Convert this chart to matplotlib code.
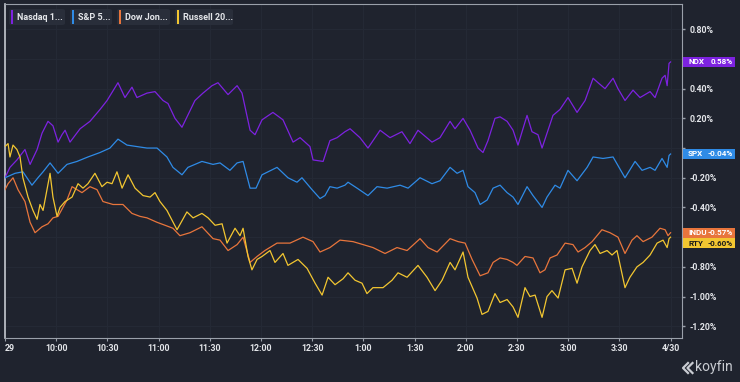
import matplotlib.pyplot as plt
import matplotlib.patches as patches
import matplotlib.transforms as transforms
from matplotlib.lines import Line2D

# minutes after 9:30 and % change
ndx_t = [0, 2.9, 7.0, 11.7, 14.7, 18.8, 21.7, 25.2, 28.1, 31.1, 33.4, 35.2, 38.1, 44.0, 49.8, 55.7,
         59.8, 66.2, 70.3, 74.4, 77.3, 83.2, 87.9, 92.6, 95.5, 99.6, 103.7, 111.3, 116.0, 121.3,
         124.8, 130.7, 136.0, 138.9, 143.6, 146.5, 150.6, 157.0, 162.9, 168.8, 172.9, 178.7, 180.5,
         186.4, 190.4, 194.6, 199.2, 202.2, 208.0, 212.7, 219.8, 225.6, 232.6, 237.3, 242.0, 250.2,
         254.9, 260.8, 263.7, 268.4, 272.5, 277.2, 280.1, 283.0, 287.1, 290.1, 294.2, 297.7, 300.6,
         305.9, 308.8, 312.3, 314.7, 317.6, 321.1, 325.2, 329.9, 335.2, 339.9, 344.6, 347.5, 351.6,
         356.3, 359.2, 363.3, 368.0, 372.1, 378.0, 380.9, 385.0, 386.8, 388.0, 389.1, 390]
ndx_v = [-0.20, -0.13, -0.08, -0.01, -0.11, -0.01, 0.10, 0.18, 0.15, 0.04, 0.09, 0.12, 0.04, 0.13, 0.18, 0.26,
         0.32, 0.44, 0.34, 0.41, 0.34, 0.37, 0.38, 0.32, 0.30, 0.20, 0.14, 0.32, 0.37, 0.42,
         0.44, 0.36, 0.42, 0.37, 0.12, 0.09, 0.19, 0.24, 0.19, 0.04, 0.07, 0.01, -0.08,
         -0.09, 0.05, 0.07, 0.11, 0.13, 0.07, 0.00, 0.12, 0.07, 0.11, 0.03, 0.12, 0.04,
         0.07, 0.18, 0.13, 0.20, 0.12, 0.00, -0.03, 0.05, 0.20, 0.21, 0.18, 0.12, 0.02,
         0.22, 0.11, 0.09, 0.00, 0.10, 0.22, 0.26, 0.34, 0.24, 0.32, 0.47, 0.44, 0.40,
         0.47, 0.40, 0.32, 0.39, 0.34, 0.38, 0.34, 0.47, 0.49, 0.42, 0.57, 0.58]

spx_t = [0, 5.9, 10.5, 15.8, 19.3, 22.3, 26.4, 31.1, 36.3, 42.2, 48.6, 55.7, 61.5, 66.2, 71.5, 77.3,
         83.2, 89.1, 94.9, 98.4, 103.7, 107.2, 115.4, 121.9, 126.0, 131.8, 136.0, 139.5, 143.6, 147.1,
         150.6, 159.4, 165.8, 171.1, 174.0, 179.9, 184.6, 187.5, 190.4, 194.6, 199.2, 201.0, 206.3,
         212.7, 218.0, 223.9, 231.5, 236.2, 243.2, 250.2, 254.9, 260.8, 264.9, 268.4, 271.3, 275.4,
         278.4, 282.5, 286.0, 290.1, 294.2, 297.7, 300.6, 305.9, 309.4, 314.7, 317.6, 322.3, 325.2,
         329.9, 335.2, 341.1, 344.6, 350.4, 356.3, 363.3, 369.2, 373.3, 378.0, 380.9, 385.0, 388.0,
         389.1, 390]
spx_v = [-0.20, -0.17, -0.16, -0.25, -0.20, -0.16, -0.10, -0.17, -0.11, -0.09, -0.06, -0.03, 0.00, 0.06, 0.02, 0.01,
         0.00, 0.00, -0.06, -0.13, -0.18, -0.13, -0.09, -0.11, -0.10, -0.15, -0.10, -0.09, -0.27, -0.27,
         -0.18, -0.13, -0.20, -0.23, -0.20, -0.28, -0.34, -0.32, -0.26, -0.27, -0.25, -0.23, -0.27,
         -0.32, -0.26, -0.27, -0.25, -0.27, -0.20, -0.24, -0.22, -0.13, -0.17, -0.15, -0.26, -0.30,
         -0.38, -0.35, -0.27, -0.25, -0.30, -0.33, -0.38, -0.26, -0.32, -0.40, -0.33, -0.25, -0.27,
         -0.15, -0.22, -0.13, -0.06, -0.07, -0.06, -0.20, -0.09, -0.15, -0.13, -0.15, -0.07, -0.13,
         -0.05, -0.04]

indu_t = [0, 1.8, 4.7, 7.6, 11.7, 14.7, 17.6, 21.7, 25.2, 28.1, 31.1, 36.3, 39.3, 45.1, 49.8, 53.9,
          57.4, 63.3, 69.1, 74.4, 79.1, 83.2, 89.1, 93.8, 98.4, 102.5, 108.4, 115.4, 121.9, 126.0,
          130.7, 136.0, 139.5, 143.6, 147.7, 152.3, 159.4, 167.0, 174.6, 180.5, 184.6, 190.4, 196.3,
          203.9, 209.8, 215.6, 222.7, 229.7, 235.6, 243.2, 247.9, 253.2, 260.8, 265.5, 269.6, 273.7,
          278.4, 283.0, 286.0, 290.1, 294.2, 297.7, 300.0, 304.7, 309.4, 313.5, 316.4, 319.4, 323.5,
          328.2, 332.8, 335.8, 339.9, 344.0, 349.8, 354.5, 359.2, 363.3, 367.4, 370.3, 373.9, 379.1,
          383.8, 386.8, 388.5, 390]
indu_v = [-0.28, -0.24, -0.20, -0.28, -0.36, -0.50, -0.57, -0.53, -0.51, -0.47, -0.46, -0.35, -0.26, -0.30, -0.26, -0.28,
          -0.36, -0.38, -0.38, -0.44, -0.46, -0.47, -0.50, -0.52, -0.54, -0.59, -0.57, -0.53, -0.61, -0.62,
          -0.69, -0.65, -0.60, -0.77, -0.73, -0.69, -0.64, -0.64, -0.60, -0.63, -0.70, -0.67, -0.62,
          -0.63, -0.65, -0.67, -0.71, -0.67, -0.69, -0.61, -0.67, -0.70, -0.61, -0.63, -0.64, -0.75,
          -0.86, -0.84, -0.77, -0.74, -0.75, -0.77, -0.79, -0.73, -0.74, -0.84, -0.82, -0.74, -0.72,
          -0.64, -0.65, -0.70, -0.67, -0.63, -0.55, -0.57, -0.60, -0.71, -0.62, -0.59, -0.63, -0.60,
          -0.54, -0.55, -0.59, -0.57]

rty_t = [0, 1.8, 2.9, 4.7, 7.0, 8.8, 10.5, 13.5, 16.4, 18.8, 20.5, 22.3, 24.6, 26.4, 28.1, 30.5,
         32.2, 35.2, 39.3, 42.8, 45.7, 48.6, 52.7, 56.8, 59.8, 62.7, 65.6, 68.6, 72.1, 76.2, 80.9,
         85.0, 87.9, 90.8, 94.9, 96.7, 100.8, 106.6, 110.2, 115.4, 119.0, 123.1, 127.2, 130.1, 134.8,
         137.7, 139.5, 142.4, 144.7, 147.7, 150.6, 155.3, 158.2, 162.9, 165.8, 171.7, 177.0, 181.7,
         185.8, 189.3, 193.4, 198.1, 201.0, 205.1, 209.2, 212.1, 215.6, 221.5, 226.8, 230.3, 235.6,
         242.0, 247.3, 252.0, 256.1, 260.8, 263.7, 268.4, 271.3, 276.6, 279.5, 283.0, 287.1, 290.1,
         294.2, 297.7, 300.6, 304.7, 307.6, 310.6, 314.7, 317.6, 320.5, 324.1, 328.2, 332.3, 335.2,
         338.1, 342.8, 345.7, 348.7, 352.8, 355.7, 358.6, 363.3, 366.2, 370.3, 373.9, 378.0, 382.1,
         385.6, 388.0, 389.1, 390]
rty_v = [0.01, 0.03, -0.06, 0.02, -0.01, -0.06, -0.20, -0.33, -0.42, -0.48, -0.38, -0.42, -0.28, -0.17, -0.33, -0.46,
         -0.40, -0.36, -0.33, -0.24, -0.27, -0.24, -0.17, -0.26, -0.23, -0.24, -0.16, -0.27, -0.18, -0.27, -0.32,
         -0.33, -0.30, -0.36, -0.42, -0.46, -0.55, -0.43, -0.47, -0.44, -0.47, -0.52, -0.51, -0.64, -0.54,
         -0.59, -0.54, -0.73, -0.82, -0.75, -0.73, -0.69, -0.77, -0.71, -0.79, -0.75, -0.81, -0.91,
         -0.99, -0.87, -0.92, -0.88, -0.84, -0.89, -0.91, -0.98, -0.94, -0.94, -0.89, -0.84, -0.87,
         -0.79, -0.87, -0.96, -0.89, -0.77, -0.82, -0.70, -0.87, -1.01, -1.12, -1.10, -0.98, -1.04,
         -1.02, -1.07, -1.14, -0.94, -1.00, -0.99, -1.14, -1.00, -0.96, -1.01, -0.82, -0.81, -0.91,
         -0.80, -0.69, -0.65, -0.71, -0.69, -0.72, -0.69, -0.94, -0.87, -0.80, -0.77, -0.72, -0.64,
         -0.62, -0.67, -0.61, -0.60]

legend_names = ["Nasdaq 1...", "S&P 5...", "Dow Jon...", "Russell 20..."]
tickers = ["NDX", "SPX", "INDU", "RTY"]
colors = ["#7d22e0", "#2f8be6", "#e8753c", "#f2c631"]
x_ticks = [0, 30, 60, 90, 120, 150, 180, 210, 240, 270, 300, 330, 360, 390]
x_labels = ["29", "10:00", "10:30", "11:00", "11:30", "12:00", "12:30", "1:00",
            "1:30", "2:00", "2:30", "3:00", "3:30", "4/30"]
y_ticks = [-1.2, -1.0, -0.8, -0.6, -0.4, -0.2, 0.0, 0.2, 0.4, 0.6, 0.8]

bg = "#1f232e"
txt = "#e4e6ea"
W, H = 740, 382

plt.rcParams['font.family'] = ['Roboto', 'DejaVu Sans']

fig = plt.figure(figsize=(W / 100, H / 100), dpi=100, facecolor=bg)
ax = fig.add_axes([5 / W, 1 - 338 / H, 677 / W, 334 / H], facecolor=bg)
ax.set_xlim(0, 396.7)
ax.set_ylim(-1.279, 0.970)

for s in ax.spines.values():
    s.set_color("#9aa0aa")
    s.set_linewidth(0.8)
ax.spines['left'].set_color("#c4c8cf")
ax.spines['left'].set_linewidth(1.2)

ax.grid(True, color="#242935", linewidth=0.8)
ax.axhline(0, color="#b8bcc4", linestyle=(0, (1.5, 1.5)), linewidth=0.7, zorder=1)

series = [(ndx_t, ndx_v), (spx_t, spx_v), (indu_t, indu_v), (rty_t, rty_v)]
for (t, v), c in zip(series, colors):
    ax.plot(t, v, color=c, linewidth=0.9, zorder=3)

# last value boxes on the right axis, pushed apart when they collide
last_vals = [v[-1] for _, v in series]
order = sorted(range(4), key=lambda i: -last_vals[i])
gap = 10.5 * 2.249 / 334
box_y = {}
prev = None
for i in order:
    y = last_vals[i]
    if prev is not None and prev - y < gap:
        y = prev - gap
    box_y[i] = y
    prev = y

bh = 10 * 2.249 / 334
# tick labels hidden behind a box are left blank, as on the reference
ylabels = []
for v in y_ticks:
    covered = any(abs(v - box_y[i]) < bh * 0.6 for i in range(4))
    ylabels.append("" if covered else f"{v:.2f}%")

ax.set_xticks(x_ticks)
ax.set_xticklabels(x_labels)
ax.get_xticklabels()[0].set_horizontalalignment('left')
ax.yaxis.tick_right()
ax.set_yticks(y_ticks)
ax.set_yticklabels(ylabels)
ax.tick_params(axis='x', colors="#9aa0aa", labelcolor=txt, length=2.5, width=0.8, labelsize=6.3, pad=2)
ax.tick_params(axis='y', colors="#9aa0aa", labelcolor=txt, length=2, width=1, labelsize=6.3, pad=3.5)
for lab in ax.get_xticklabels() + ax.get_yticklabels():
    lab.set_fontweight('bold')

trans = transforms.blended_transform_factory(ax.transAxes, ax.transData)
for i in range(4):
    y = box_y[i]
    ax.add_patch(patches.Rectangle((1.0015, y - bh / 2), 0.077, bh, transform=trans,
                                   facecolor=colors[i], edgecolor='none', clip_on=False, zorder=6))
    tc = "#1a1a1a" if tickers[i] == "RTY" else "white"
    ax.text(1.009, y, tickers[i], transform=trans, color=tc, fontsize=5.8, fontweight='bold',
            va='center', ha='left', zorder=7, clip_on=False)
    ax.text(1.075, y, f"{last_vals[i]:.2f}%", transform=trans, color=tc, fontsize=5.8,
            fontweight='bold', va='center', ha='right', zorder=7, clip_on=False)

# legend chips at top left
chips = [(9, 65), (70, 112), (117, 170), (175, 233)]
for (x0, x1), name, c in zip(chips, legend_names, colors):
    fig.patches.append(patches.FancyBboxPatch((x0 / W, 1 - 25 / H), (x1 - x0) / W, 16 / H,
                                              boxstyle="round,pad=0,rounding_size=0.004",
                                              transform=fig.transFigure, facecolor="#292e3a",
                                              edgecolor='none'))
    fig.patches.append(patches.Rectangle(((x0 + 2) / W, 1 - 24 / H), 2.2 / W, 14 / H,
                                         transform=fig.transFigure, facecolor=c, edgecolor='none'))
    fig.text((x0 + 8) / W, 1 - 17 / H, name, color=txt, fontsize=6.5, fontweight='bold',
             va='center', ha='left')

# koyfin mark: double chevron + word
for dx in (0, 4.5):
    fig.lines.append(Line2D([(688 + dx) / W, (683 + dx) / W, (688 + dx) / W],
                            [1 - 363 / H, 1 - 368 / H, 1 - 373 / H],
                            transform=fig.transFigure, color="#c9ccd2", linewidth=1.6))
fig.text(695 / W, 1 - 367 / H, "koyfin", color="#c9ccd2", fontsize=10, va='center', ha='left')

fig.savefig("out.png", dpi=100, facecolor=bg)
